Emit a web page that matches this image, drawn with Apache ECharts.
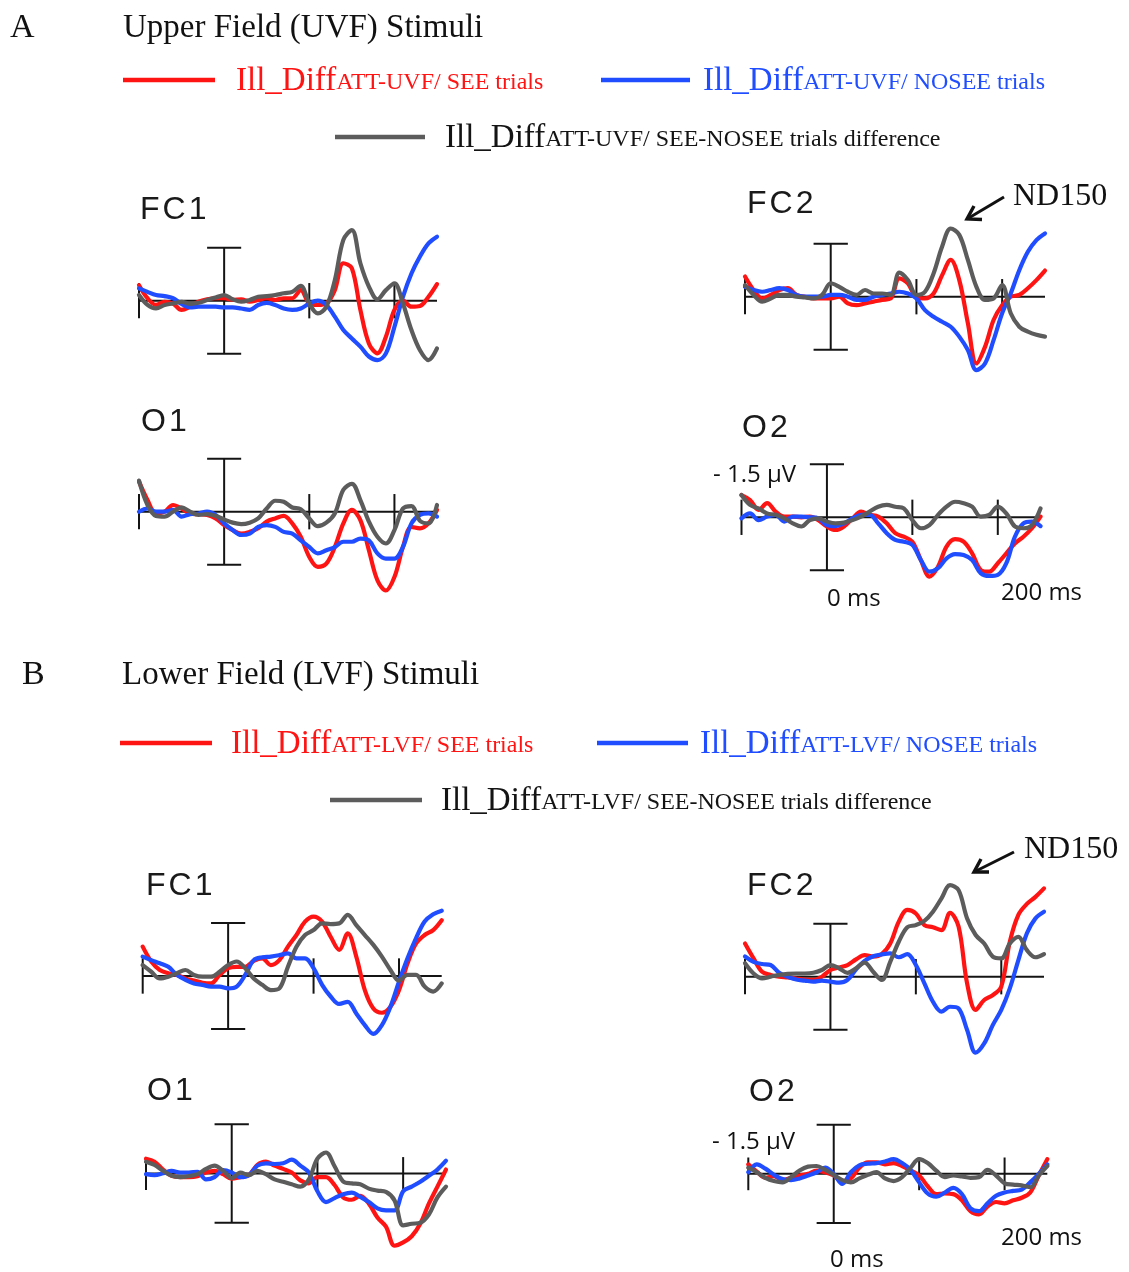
<!DOCTYPE html>
<html>
<head>
<meta charset="utf-8">
<script src="https://cdn.jsdelivr.net/npm/echarts@6/dist/echarts.min.js"></script>
<style>
  html, body { margin: 0; padding: 0; background: #ffffff; }
  #chart { width: 1129px; height: 1272px; }
</style>
</head>
<body>
<div id="chart"></div>
<script>
// Time axis of every waveform (ms, relative to stimulus onset)
const times = [-100, -90, -80, -70, -60, -50, -40, -30, -20, -10,
                  0,  10,  20,  30,  40,  50,  60,  70,  80,  90,
                100, 110, 120, 130, 140, 150, 160, 170, 180, 190,
                200, 210, 220, 230, 240, 250];

// Axis furniture values
const tickTimes = [-100, 100, 200];   // ms
const tickHalf = 0.5;                 // µV, half height of a time tick
const scaleBarHalf = 1.5;             // µV, the ±1.5 µV calibration bar
const capHalf = 20;                   // ms, half width of the bar caps
const timeStart = -100, timeEnd = 250;

// ---- A: Upper field (UVF) stimuli, amplitudes in µV (negative plotted up) ----
const uvfFC1See   = [-0.44,-0.07,0.12,0.03,0.08,0.26,0.17,0.03,-0.04,-0.07, -0.07,-0.02,-0.04,0.03,-0.02,-0.07,-0.02,-0.07,-0.07,-0.30, 0.08,0.12,0.08,-0.30,-1.06,-0.92,0.26,1.21,1.49,1.02, 0.26,0.0,0.17,0.15,-0.11,-0.47];
const uvfFC1NoSee = [-0.35,-0.25,-0.16,-0.13,-0.07,0.09,0.19,0.17,0.17,0.17, 0.19,0.19,0.22,0.26,0.12,0.06,0.12,0.22,0.26,0.22, 0.08,0.0,0.12,0.45,0.83,1.07,1.30,1.58,1.68,1.49, 0.74,-0.11,-0.77,-1.25,-1.62,-1.81];
const uvfFC1Diff  = [-0.16,0.12,0.22,0.12,0.08,0.03,0.09,0.06,-0.02,-0.09, -0.16,-0.04,0.03,-0.02,-0.11,-0.13,-0.16,-0.21,-0.25,-0.42, 0.08,0.36,0.17,-0.58,-1.72,-2.0,-1.06,-0.4,-0.04,-0.30, -0.49,0.08,0.83,1.40,1.68,1.35];

const uvfFC2See   = [-0.57,-0.19,0.05,-0.05,-0.19,-0.24,-0.05,0,0.05,0.05, 0.05,0,0.19,0.24,0.19,0.14,0.09,0.05,-0.52,-0.38, 0.02,0.05,-0.09,-0.61,-1.04,-0.47,0.75,1.89,1.42,0.66, 0.24,0,-0.05,-0.24,-0.47,-0.74];
const uvfFC2NoSee = [-0.28,-0.19,-0.14,-0.19,-0.24,-0.19,-0.05,0,0,0, -0.05,-0.05,0,0.09,0.09,0,-0.05,-0.09,-0.14,-0.09, 0.05,0.38,0.57,0.71,0.85,1.13,1.51,2.08,1.89,1.23, 0.47,-0.09,-0.75,-1.27,-1.60,-1.79];
const uvfFC2Diff  = [-0.33,-0.05,0.14,0.05,-0.05,-0.05,0,0.02,0.05,-0.05, -0.38,-0.28,-0.14,-0.05,-0.19,-0.09,-0.09,-0.05,-0.68,-0.47, -0.05,-0.14,-0.66,-1.42,-1.93,-1.75,-1.04,-0.28,0.09,0.05, -0.33,0.47,0.85,0.99,1.08,1.13];

const uvfO1See    = [-0.85,-0.33,0.05,0,-0.19,-0.09,0.05,0.07,0.09,0.19, 0.38,0.52,0.62,0.57,0.47,0.28,0.19,0.12,0.33,0.71, 1.28,1.56,1.47,1.0,0.33,-0.05,0.24,1.09,1.94,2.23, 1.85,1.0,0.43,0.47,0.33,-0.05];
const uvfO1NoSee  = [0,-0.09,0,0,-0.05,0.14,0.07,0.05,0,0.09, 0.33,0.52,0.66,0.62,0.43,0.38,0.43,0.57,0.62,0.81, 1.0,1.18,1.09,1.0,0.85,0.85,0.76,0.81,1.18,1.33, 1.33,1.0,0.33,0.09,0.05,0.14];
const uvfO1Diff   = [-0.88,-0.19,0.12,0.14,0,-0.12,0,0.09,0.07,0.12, 0.22,0.31,0.35,0.31,0.19,-0.09,-0.31,-0.28,-0.12,-0.07, 0.19,0.41,0.31,0.05,-0.62,-0.79,-0.33,0.28,0.71,0.90, 0.52,-0.09,-0.16,0.26,0.33,-0.19];

const uvfO2See    = [-0.63,-0.49,-0.21,-0.40,-0.16,-0.02,-0.02,0,-0.02,0.08, 0.26,0.36,0.26,0.03,-0.16,-0.07,-0.02,0.17,0.45,0.55, 0.69,1.21,1.68,1.40,0.83,0.62,0.69,1.02,1.49,1.54, 1.30,1.02,0.74,0.55,0.31,-0.02];
const uvfO2NoSee  = [0.03,-0.11,0.08,-0.02,-0.07,0.12,-0.02,-0.02,0,0.03, 0.22,0.25,0.17,0.03,-0.07,-0.07,0.17,0.45,0.64,0.69, 0.78,1.21,1.54,1.44,1.16,1.04,1.07,1.21,1.58,1.66, 1.63,1.30,0.55,0.17,0.12,0.25];
const uvfO2Diff   = [-0.63,-0.35,-0.25,-0.11,-0.07,0.03,0.17,0.26,0.08,0.03, 0.12,0.17,0.15,0.08,-0.02,-0.16,-0.30,-0.35,-0.30,-0.25, 0.08,0.31,0.22,-0.07,-0.30,-0.44,-0.40,-0.30,-0.02,-0.07, -0.30,-0.11,0.26,0.31,0.22,-0.25];

// ---- B: Lower field (LVF) stimuli ----
const lvfFC1See   = [-0.83,-0.41,-0.17,-0.08,-0.03,0.07,0.13,0.19,0.21,-0.03, -0.22,-0.26,-0.26,-0.43,-0.50,-0.31,-0.45,-0.83,-1.16,-1.54, -1.68,-1.54,-1.11,-0.74,-1.21,-0.55,0.40,0.92,1.04,0.87, 0.40,-0.36,-0.92,-1.16,-1.30,-1.58];
const lvfFC1NoSee = [-0.55,-0.45,-0.36,-0.26,-0.03,0.11,0.21,0.25,0.30,0.30, 0.35,0.30,-0.03,-0.45,-0.53,-0.55,-0.59,-0.64,-0.50,-0.50, -0.22,0.25,0.58,0.79,0.73,1.06,1.39,1.64,1.39,0.87, 0.16,-0.50,-1.07,-1.54,-1.75,-1.85];
const lvfFC1Diff  = [-0.31,-0.12,0.07,0.02,-0.08,-0.17,-0.03,0.02,0.02,-0.12, -0.31,-0.41,-0.22,0.07,0.25,0.40,0.35,-0.26,-0.83,-1.16, -1.30,-1.49,-1.47,-1.49,-1.73,-1.44,-1.16,-0.88,-0.55,-0.17, 0.13,-0.03,-0.03,0.30,0.44,0.21];

const lvfFC2See   = [-0.94,-0.52,-0.14,-0.05,0,0.02,0.05,0.08,0.09,0, -0.19,-0.26,-0.33,-0.49,-0.61,-0.57,-0.64,-0.94,-1.56,-1.89, -1.79,-1.46,-1.40,-1.32,-1.81,-1.42,0.19,0.94,0.66,0.52, 0.28,-0.99,-1.75,-2.06,-2.26,-2.50];
const lvfFC2NoSee = [-0.57,-0.42,-0.36,-0.33,-0.11,0,0.08,0.11,0.14,0.11, 0.14,0.17,0.09,-0.21,-0.45,-0.58,-0.63,-0.66,-0.55,-0.64, -0.33,0.19,0.71,0.99,0.85,0.90,1.51,2.15,1.89,1.37, 0.94,0.33,-0.47,-1.23,-1.65,-1.84];
const lvfFC2Diff  = [-0.38,-0.09,0.05,0,-0.05,-0.08,-0.09,-0.09,-0.11,-0.19, -0.33,-0.24,-0.11,-0.24,-0.40,-0.14,0.09,-0.42,-0.99,-1.40, -1.46,-1.58,-1.84,-2.22,-2.59,-2.45,-1.65,-1.18,-0.94,-0.57, -0.52,-0.94,-1.13,-0.75,-0.55,-0.64];

const lvfO1See    = [-0.45,-0.36,-0.12,0.07,0.11,0.11,0.08,-0.03,-0.08,0.02, 0.16,0.11,0.05,-0.26,-0.36,-0.24,-0.14,-0.03,0.21,0.30, 0.11,0.11,0.35,0.73,0.80,0.68,0.92,1.34,1.62,2.2, 2.1,1.91,1.53,0.92,0.40,-0.12];
const lvfO1NoSee  = [0.02,0.05,-0.01,-0.08,-0.03,-0.03,-0.05,0.18,0.11,-0.10, -0.03,0.11,0.05,-0.24,-0.31,-0.29,-0.31,-0.42,-0.24,-0.03, 0.54,0.87,0.75,0.63,0.58,0.71,0.87,1.06,1.12,1.12, 0.54,0.40,0.25,0.07,-0.12,-0.39];
const lvfO1Diff   = [-0.36,-0.26,-0.08,0.07,0.11,0.08,0.02,-0.14,-0.24,-0.08, 0.14,-0.03,0.05,-0.08,0.02,0.18,0.25,0.33,0.40,0.18, -0.45,-0.64,-0.22,0.24,0.30,0.33,0.46,0.52,0.56,0.82, 1.58,1.53,1.50,1.25,0.73,0.40];

const lvfO2See    = [-0.29,-0.07,0.12,0.07,0.19,0.12,0.05,0,-0.10,-0.05, 0.05,0.22,0.14,-0.19,-0.35,-0.35,-0.29,-0.33,-0.24,-0.10, 0.05,0.38,0.62,0.60,0.62,0.81,1.14,1.24,1.0,0.86, 0.90,0.81,0.73,0.57,0.05,-0.45];
const lvfO2NoSee  = [-0.05,-0.29,-0.16,0.03,0.16,0.19,0.14,0.05,-0.05,-0.19, 0,0.31,-0.05,-0.26,-0.31,-0.33,-0.38,-0.45,-0.33,-0.12, 0.26,0.60,0.70,0.57,0.43,0.62,1.05,1.14,0.90,0.67, 0.57,0.52,0.48,0.26,0,-0.29];
const lvfO2Diff   = [-0.19,-0.05,0.12,0.22,0.26,0.10,-0.10,-0.22,-0.24,-0.12, 0.03,0.19,0.26,0.14,0.03,-0.05,0.14,0.22,0.10,-0.19, -0.45,-0.33,-0.10,0.10,0.05,0.08,0.12,0.10,-0.12,0.05, 0.29,0.33,0.35,0.41,0.05,-0.24];

// Series labels
const seeNameUVF   = 'Ill_Diff ATT-UVF/ SEE trials';
const noSeeNameUVF = 'Ill_Diff ATT-UVF/ NOSEE trials';
const diffNameUVF  = 'Ill_Diff ATT-UVF/ SEE-NOSEE trials difference';
const seeNameLVF   = 'Ill_Diff ATT-LVF/ SEE trials';
const noSeeNameLVF = 'Ill_Diff ATT-LVF/ NOSEE trials';
const diffNameLVF  = 'Ill_Diff ATT-LVF/ SEE-NOSEE trials difference';

const COLOR_SEE = '#ff1414';
const COLOR_NOSEE = '#1f4dff';
const COLOR_DIFF = '#5c5c5c';
const SERIF = '"Liberation Serif", "Times New Roman", serif';
const SANS = '"Liberation Sans", Arial, sans-serif';
const LABEL_SANS = '"Open Sans", "Noto Sans", sans-serif';

// Panel placement (grid left edge = -100 ms, baseline = 0 µV)
const PX_PER_UV = 35.33;
const panels = [
  { ch: 'FC1', left: 139,   base: 300.7,  width: 298, see: uvfFC1See, nosee: uvfFC1NoSee, diff: uvfFC1Diff, names: [seeNameUVF, noSeeNameUVF, diffNameUVF], lx: 140, ly: 210 },
  { ch: 'FC2', left: 745,   base: 296.7,  width: 300, see: uvfFC2See, nosee: uvfFC2NoSee, diff: uvfFC2Diff, names: [seeNameUVF, noSeeNameUVF, diffNameUVF], lx: 747, ly: 204 },
  { ch: 'O1',  left: 139,   base: 511.7,  width: 298, see: uvfO1See,  nosee: uvfO1NoSee,  diff: uvfO1Diff,  names: [seeNameUVF, noSeeNameUVF, diffNameUVF], lx: 141, ly: 422 },
  { ch: 'O2',  left: 741.5, base: 517.3,  width: 299, see: uvfO2See,  nosee: uvfO2NoSee,  diff: uvfO2Diff,  names: [seeNameUVF, noSeeNameUVF, diffNameUVF], lx: 742, ly: 428 },
  { ch: 'FC1', left: 142.7, base: 976,    width: 299, see: lvfFC1See, nosee: lvfFC1NoSee, diff: lvfFC1Diff, names: [seeNameLVF, noSeeNameLVF, diffNameLVF], lx: 146, ly: 886 },
  { ch: 'FC2', left: 745,   base: 976.7,  width: 299, see: lvfFC2See, nosee: lvfFC2NoSee, diff: lvfFC2Diff, names: [seeNameLVF, noSeeNameLVF, diffNameLVF], lx: 747, ly: 886 },
  { ch: 'O1',  left: 146,   base: 1181,   width: 300, see: lvfO1See,  nosee: lvfO1NoSee,  diff: lvfO1Diff,  names: [seeNameLVF, noSeeNameLVF, diffNameLVF], lx: 147, ly: 1091 },
  { ch: 'O2',  left: 748.3, base: 1181.7, width: 299, see: lvfO2See,  nosee: lvfO2NoSee,  diff: lvfO2Diff,  names: [seeNameLVF, noSeeNameLVF, diffNameLVF], lx: 749, ly: 1092 }
];
const Y_RANGE = 3; // µV shown above and below the baseline

const pairs = (vals) => times.map((t, i) => [t, vals[i]]);

const grids = [], xAxes = [], yAxes = [], series = [];
panels.forEach((p, i) => {
  grids.push({ left: p.left, top: p.base - Y_RANGE * PX_PER_UV, width: p.width, height: 2 * Y_RANGE * PX_PER_UV });
  xAxes.push({ type: 'value', gridIndex: i, min: timeStart, max: timeEnd, show: false });
  yAxes.push({ type: 'value', gridIndex: i, min: -Y_RANGE, max: Y_RANGE, inverse: true, show: false });

  // baseline, time ticks and the calibration bar at 0 ms
  series.push({
    type: 'custom', xAxisIndex: i, yAxisIndex: i, silent: true, clip: false, z: 1,
    data: [[0, 0]],
    renderItem: function (params, api) {
      const c = (t, v) => api.coord([t, v]);
      const st = { stroke: '#141414', lineWidth: 2, fill: null };
      const seg = (a, b) => ({ type: 'line', shape: { x1: a[0], y1: a[1], x2: b[0], y2: b[1] }, style: st });
      const kids = [seg(c(timeStart, 0), c(timeEnd, 0))];
      tickTimes.forEach(t => kids.push(seg(c(t, -tickHalf), c(t, tickHalf))));
      kids.push(seg(c(0, -scaleBarHalf), c(0, scaleBarHalf)));
      kids.push(seg(c(-capHalf, -scaleBarHalf), c(capHalf, -scaleBarHalf)));
      kids.push(seg(c(-capHalf, scaleBarHalf), c(capHalf, scaleBarHalf)));
      return { type: 'group', children: kids };
    }
  });

  const waves = [[p.see, COLOR_SEE, p.names[0]], [p.nosee, COLOR_NOSEE, p.names[1]], [p.diff, COLOR_DIFF, p.names[2]]];
  waves.forEach(([vals, col, name], k) => {
    series.push({
      type: 'line', name: name, xAxisIndex: i, yAxisIndex: i, z: 2 + k,
      data: pairs(vals), smooth: 0.35, symbol: 'none', silent: true,
      lineStyle: { color: col, width: 4.2, cap: 'round', join: 'round' }
    });
  });
});

// ---- text and legend graphics ----
function txt(x, y, text, font, fill, align) {
  return { type: 'text', x: x, y: y, silent: true, style: {
    text: text, font: font, fill: fill,
    textAlign: align || 'left', textVerticalAlign: 'middle',
    align: align || 'left', verticalAlign: 'middle' } };
}
// electrode name, drawn letter by letter with a little tracking
function channelLabel(x, y, name) {
  const tokens = name.split('').map(ch => '{c|' + ch + '}').join('');
  return { type: 'text', x: x, y: y, silent: true, style: {
    text: tokens, fill: '#1a1a1a', textVerticalAlign: 'middle', verticalAlign: 'middle',
    rich: { c: { fontFamily: SANS, fontSize: 32, fill: '#1a1a1a', color: '#1a1a1a', padding: [0, 3, 0, 0] } } } };
}
function legendEntry(x1, x2, y, tx, sub, color, textColor) {
  return [
    { type: 'line', silent: true, shape: { x1: x1, y1: y, x2: x2, y2: y }, style: { stroke: color, lineWidth: 4.5 } },
    { type: 'text', x: tx, y: y, silent: true, style: {
        text: '{big|Ill_Diff}{small|' + sub + '}',
        fill: textColor, textVerticalAlign: 'middle', verticalAlign: 'middle',
        rich: {
          big:   { fontFamily: SERIF, fontSize: 33, fill: textColor, color: textColor, verticalAlign: 'bottom', lineHeight: 35 },
          small: { fontFamily: SERIF, fontSize: 24, fill: textColor, color: textColor, verticalAlign: 'bottom', lineHeight: 26, padding: [0, 0, 3, 0] }
        } } }
  ];
}
function arrow(tail, tip, arm1, arm2) {
  return [
    { type: 'line', silent: true, shape: { x1: tail[0], y1: tail[1], x2: tip[0], y2: tip[1] }, style: { stroke: '#111', lineWidth: 3 } },
    { type: 'polyline', silent: true, shape: { points: [arm1, tip, arm2] }, style: { stroke: '#111', lineWidth: 3.4, fill: null, lineJoin: 'miter' } }
  ];
}

const graphics = [
  txt(10, 28, 'A', '34px ' + SERIF, '#111'),
  txt(123, 28, 'Upper Field (UVF) Stimuli', '33px ' + SERIF, '#111'),
  ...legendEntry(123, 215, 80, 236, 'ATT-UVF/ SEE trials', COLOR_SEE, COLOR_SEE),
  ...legendEntry(601, 690, 80, 703, 'ATT-UVF/ NOSEE trials', COLOR_NOSEE, COLOR_NOSEE),
  ...legendEntry(335, 425, 137, 445, 'ATT-UVF/ SEE-NOSEE trials difference', COLOR_DIFF, '#141414'),
  txt(22, 675, 'B', '34px ' + SERIF, '#111'),
  txt(122, 675, 'Lower Field (LVF) Stimuli', '33px ' + SERIF, '#111'),
  ...legendEntry(120, 212, 743, 231, 'ATT-LVF/ SEE trials', COLOR_SEE, COLOR_SEE),
  ...legendEntry(597, 688, 743, 700, 'ATT-LVF/ NOSEE trials', COLOR_NOSEE, COLOR_NOSEE),
  ...legendEntry(330, 422, 800, 441, 'ATT-LVF/ SEE-NOSEE trials difference', COLOR_DIFF, '#141414'),
  // ND150 call-outs
  txt(1013, 197, 'ND150', '32px ' + SERIF, '#111'),
  ...arrow([1004, 197], [967, 219], [982, 219.5], [974, 206]),
  txt(1024, 850, 'ND150', '32px ' + SERIF, '#111'),
  ...arrow([1014, 852], [974, 872], [989, 872], [981, 859]),
  // scale annotations on O2
  txt(713, 475, '- 1.5 µV', '24px ' + LABEL_SANS, '#111'),
  txt(827, 599, '0 ms', '24px ' + LABEL_SANS, '#111'),
  txt(1001, 593, '200 ms', '24px ' + LABEL_SANS, '#111'),
  txt(712, 1142, '- 1.5 µV', '24px ' + LABEL_SANS, '#111'),
  txt(830, 1260, '0 ms', '24px ' + LABEL_SANS, '#111'),
  txt(1001, 1238, '200 ms', '24px ' + LABEL_SANS, '#111')
];
panels.forEach(p => graphics.push(channelLabel(p.lx, p.ly, p.ch)));

const chart = echarts.init(document.getElementById('chart'), null, { renderer: 'canvas' });
chart.setOption({
  backgroundColor: '#ffffff',
  animation: false,
  grid: grids,
  xAxis: xAxes,
  yAxis: yAxes,
  series: series,
  graphic: graphics
});
</script>
</body>
</html>
